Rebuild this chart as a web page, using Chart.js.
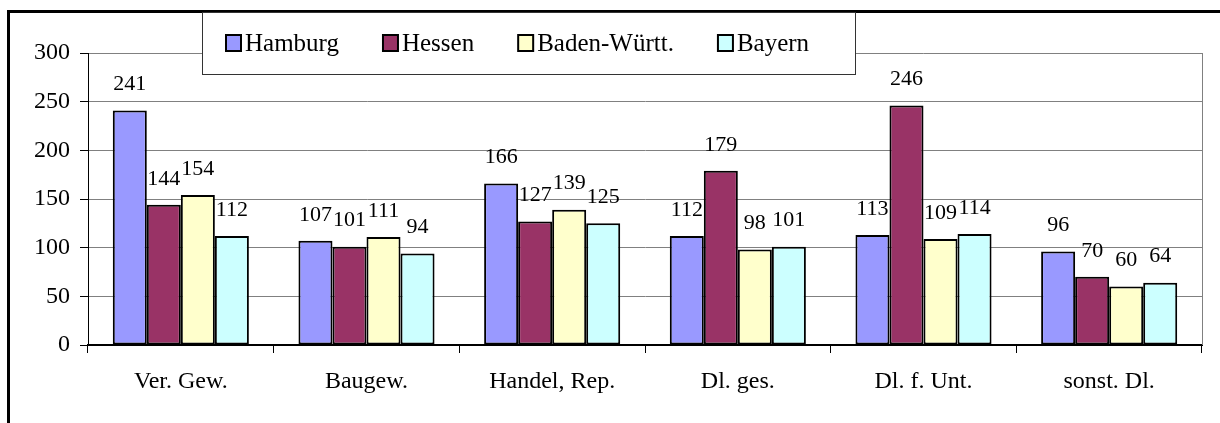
<!DOCTYPE html>
<html>
<head>
<meta charset="utf-8">
<script src="https://cdn.jsdelivr.net/npm/chart.js@4.4.1/dist/chart.umd.min.js"></script>
<style>
  body { margin: 0; background: #fff; }
  canvas { display: block; }
</style>
</head>
<body>
<canvas id="myChart" width="1220" height="423"></canvas>
<script>
const categories = ["Ver. Gew.", "Baugew.", "Handel, Rep.", "Dl. ges.", "Dl. f. Unt.", "sonst. Dl."];
const hamburg = [241, 107, 166, 112, 113, 96];
const hessen = [144, 101, 127, 179, 246, 70];
const badenWuertt = [154, 111, 139, 98, 109, 60];
const bayern = [112, 94, 125, 101, 114, 64];
const yMin = 0;
const yMax = 300;
const yStep = 50;

const serif = "'Liberation Serif', 'Times New Roman', serif";

function makeSet(label, data, color) {
  return {
    label: label,
    data: data,
    backgroundColor: color,
    borderColor: "#000",
    borderWidth: 2,
    borderSkipped: false,
    categoryPercentage: 0.733,
    barPercentage: 1.0,
  };
}

// gray frame on the right side of the plot area + outer border
const framePlugin = {
  id: "frame",
  beforeDatasetsDraw(chart) {
    const { ctx, chartArea } = chart;
    ctx.save();
    ctx.strokeStyle = "#808080";
    ctx.lineWidth = 1;
    ctx.beginPath();
    ctx.moveTo(Math.round(chartArea.right) + 0.5, chartArea.top);
    ctx.lineTo(Math.round(chartArea.right) + 0.5, chartArea.bottom);
    ctx.stroke();
    ctx.restore();
  },
  afterDraw(chart) {
    const ctx = chart.ctx;
    ctx.save();
    ctx.strokeStyle = "#000";
    ctx.lineWidth = 3;
    ctx.strokeRect(8.5, 11.5, 1400, 600);
    ctx.restore();
  },
};

// value labels above the bars
const labelPlugin = {
  id: "valueLabels",
  afterDatasetsDraw(chart) {
    const ctx = chart.ctx;
    ctx.save();
    ctx.font = "22px " + serif;
    ctx.fillStyle = "#000";
    ctx.textAlign = "center";
    ctx.textBaseline = "middle";
    chart.data.datasets.forEach((ds, i) => {
      const meta = chart.getDatasetMeta(i);
      meta.data.forEach((bar, j) => {
        ctx.fillText(String(ds.data[j]), bar.x, bar.y - 26);
      });
    });
    ctx.restore();
  },
};

// boxed legend overlapping the top of the plot
const legendPlugin = {
  id: "boxLegend",
  afterDraw(chart) {
    const ctx = chart.ctx;
    const box = { x: 202, y: 12, w: 653, h: 62 };
    ctx.save();
    ctx.fillStyle = "#fff";
    ctx.fillRect(box.x, box.y, box.w, box.h);
    ctx.strokeStyle = "#333";
    ctx.lineWidth = 1;
    ctx.strokeRect(box.x + 0.5, box.y + 0.5, box.w, box.h);
    ctx.font = "25px " + serif;
    ctx.textBaseline = "middle";
    ctx.textAlign = "left";
    let x = box.x + 24;
    const cy = box.y + box.h / 2;
    chart.data.datasets.forEach((ds) => {
      ctx.fillStyle = ds.backgroundColor;
      ctx.fillRect(x, cy - 8, 15, 16);
      ctx.strokeStyle = "#000";
      ctx.lineWidth = 2;
      ctx.strokeRect(x, cy - 8, 15, 16);
      ctx.fillStyle = "#000";
      ctx.fillText(ds.label, x + 19, cy + 1);
      x += 19 + ctx.measureText(ds.label).width + 44;
    });
    ctx.restore();
  },
};

const config = {
  type: "bar",
  data: {
    labels: categories,
    datasets: [
      makeSet("Hamburg", hamburg, "#9999FF"),
      makeSet("Hessen", hessen, "#993366"),
      makeSet("Baden-Württ.", badenWuertt, "#FFFFCC"),
      makeSet("Bayern", bayern, "#CCFFFF"),
    ],
  },
  options: {
    responsive: false,
    animation: false,
    layout: { padding: { left: 8, top: 53, right: 18, bottom: 0 } },
    plugins: {
      legend: { display: false },
      tooltip: { enabled: false },
    },
    scales: {
      x: {
        grid: {
          display: true,
          drawOnChartArea: false,
          drawTicks: true,
          tickLength: 8,
          color: "#000",
          offset: true,
        },
        border: { color: "#000", width: 2 },
        ticks: {
          color: "#000",
          font: { family: serif, size: 24 },
          padding: 14,
          maxRotation: 0,
        },
        afterFit(scale) {
          scale.height = 78;
        },
      },
      y: {
        min: yMin,
        max: yMax,
        ticks: {
          stepSize: yStep,
          color: "#000",
          font: { family: serif, size: 24 },
          padding: 10,
        },
        grid: {
          color: "#808080",
          lineWidth: 1,
          tickColor: "#000",
          tickLength: 8,
        },
        border: { color: "#000", width: 1 },
        afterFit(scale) {
          scale.width = 80;
        },
      },
    },
  },
  plugins: [framePlugin, labelPlugin, legendPlugin],
};

new Chart(document.getElementById("myChart").getContext("2d"), config);
</script>
</body>
</html>
